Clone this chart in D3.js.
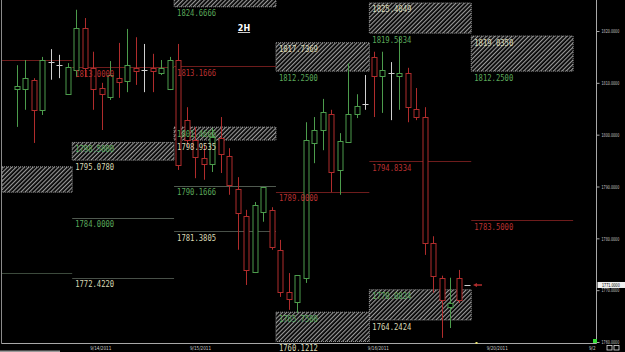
<!DOCTYPE html>
<html lang="en">
<head>
<meta charset="UTF-8">
<title>2H chart</title>
<script src="https://d3js.org/d3.v7.min.js"></script>
<style>
  body { margin: 0; background: #000; }
  svg { display: block; background: #000; }
  .lvl { font-family: "DejaVu Sans Mono", monospace; font-size: 9px; }
  .ax text { font-family: "DejaVu Sans", sans-serif; font-size: 5.5px; fill: #c8c8c8; }
</style>
</head>
<body>
<svg id="chart" width="625" height="352"></svg>
<script>
// 2H bars
const opens  = [1808.8,1808.8,1810.6,1804.8,1814.0,1813.4,1807.9,1812.5,1820.6,1812.9,1809.0,1807.3,1810.9,1810.4,1812.9,1812.5,1812.9,1811.9,1808.8,1814.4,
                1802.8,1799.0,1795.5,1794.3,1799.4,1795.9,1789.5,1784.3,1773.5,1785.1,1785.5,1777.8,1769.6,1767.7,1772.4,1798.4,1800.9,1804.0,1793.2,1798.6,
                1804.0,1805.9,1815.0,1811.3,1811.9,1811.3,1811.9,1805.0,1803.4,1779.1,1772.4,1766.8,1772.4,1771.0];
const highs  = [1813.4,1814.4,1810.9,1815.0,1816.5,1815.4,1813.8,1824.1,1822.5,1816.0,1810.0,1814.2,1817.7,1820.4,1818.8,1817.5,1815.6,1814.4,1815.0,1817.5,
                1805.3,1801.5,1798.0,1801.3,1803.4,1797.4,1791.8,1785.5,1787.0,1789.9,1786.0,1779.7,1773.3,1772.9,1802.4,1803.4,1806.9,1804.8,1800.3,1813.8,
                1807.8,1811.5,1816.0,1816.0,1814.0,1818.8,1812.9,1809.0,1805.3,1780.4,1772.8,1772.4,1773.9,1771.0];
const lows   = [1801.5,1804.8,1798.4,1803.8,1810.6,1810.9,1807.8,1811.1,1811.1,1804.8,1800.9,1806.7,1807.1,1808.2,1809.6,1808.2,1808.2,1811.5,1808.6,1793.2,
                1797.6,1791.6,1791.3,1792.8,1792.6,1788.4,1777.8,1771.0,1773.3,1783.2,1777.8,1768.7,1766.2,1765.6,1771.4,1794.5,1797.0,1788.9,1788.4,1798.4,
                1803.2,1804.8,1803.4,1804.2,1802.8,1804.8,1802.4,1802.8,1776.8,1769.5,1760.8,1762.7,1767.5,1771.0];
const closes = [1809.4,1810.9,1804.8,1814.4,1814.0,1813.4,1813.1,1820.6,1812.9,1808.8,1807.9,1811.5,1810.2,1813.4,1812.3,1812.5,1812.3,1812.9,1814.4,1794.2,
                1798.9,1795.7,1794.3,1799.6,1796.3,1790.3,1784.9,1773.9,1786.4,1789.9,1778.3,1769.6,1768.3,1772.9,1799.0,1800.9,1804.4,1792.8,1798.8,1804.0,
                1805.5,1805.9,1811.3,1812.5,1811.9,1811.9,1805.3,1803.4,1779.1,1772.7,1768.1,1767.5,1768.1,1771.0];

// session boundaries in bar units
const segBounds = [-8, 6.5, 18.5, 30.5, 41.5, 53.5, 65.5];

// hatched zones
const zoneSeg       = [0, 1, 2, 2, 3, 3, 4, 4, 5];
const zoneHigh      = [1793.8, 1798.5, 1832, 1801.4666, 1817.7369, 1765.75, 1825.4049, 1770.0834, 1819.035];
const zoneLow       = [1788.9, 1795.078, 1824.6666, 1798.9535, 1812.25, 1760.1, 1819.5834, 1764.2424, 1812.25];
const zoneHighText  = ["", "1798.5000", "", "1801.4666", "1817.7369", "1765.7500", "1825.4049", "1770.0834", "1819.0350"];
const zoneLowText   = ["", "1795.0780", "1824.6666", "1798.9535", "1812.2500", "1760.1212", "1819.5834", "1764.2424", "1812.2500"];
const zoneKind      = ["sup", "sup", "res", "sup", "res", "sup", "res", "sup", "res"];

// single levels
const levelSeg   = [0, 0, 1, 1, 1, 2, 2, 2, 3, 4, 5];
const levelPrice = [1814.4, 1773.3, 1813.0, 1784.0, 1772.422, 1813.1666, 1790.1666, 1781.3805, 1789.0, 1794.8334, 1783.5];
const levelText  = ["", "", "1813.0000", "1784.0000", "1772.4220", "1813.1666", "1790.1666", "1781.3805", "1789.0000", "1794.8334", "1783.5000"];
const levelKind  = ["red", "gray", "red", "green", "pale", "red", "green", "pale", "red", "red", "red"];

const priceTicks = [1760, 1770, 1780, 1790, 1800, 1810, 1820];
const dateAt     = [9.8, 21.55, 42.5, 56.5];
const dateLabels = ["9/14/2011", "9/15/2011", "9/16/2011", "9/20/2011"];
const lastPrice  = 1771.0;

const plotRight = 596.5, plotBottom = 343.5;
const svg = d3.select("#chart");

const x = d3.scaleLinear().domain([0, 53]).range([17, 467]);
const y = d3.scaleLinear().domain([1760, 1820]).range([342, 31]);

const col = { red: "#b02c2c", green: "#4c9c4c", white: "#d0d0d0" };
const lineCol = { red: "#6e1c1c", gray: "#3c4a3c", green: "#505a50", pale: "#485048" };
const textCol = { red: "#b83030", green: "#5aa85a", pale: "#d8d8b4" };

const defs = svg.append("defs");
const pat = defs.append("pattern").attr("id", "hatch")
    .attr("patternUnits", "userSpaceOnUse").attr("width", 3).attr("height", 3)
    .attr("patternTransform", "rotate(45)");
pat.append("rect").attr("width", 3).attr("height", 3).attr("fill", "#000");
pat.append("line").attr("x1", 0.6).attr("y1", 0).attr("x2", 0.6).attr("y2", 3)
    .attr("stroke", "#9a9a9a").attr("stroke-width", 1.2);
defs.append("clipPath").attr("id", "plot").append("rect")
    .attr("x", 2).attr("y", 0).attr("width", plotRight - 2).attr("height", plotBottom);
defs.append("clipPath").attr("id", "labs").append("rect")
    .attr("x", 2).attr("y", 0).attr("width", plotRight - 2).attr("height", 352);

const g = svg.append("g").attr("clip-path", "url(#plot)");
const segX = s => [Math.max(2, x(segBounds[s])), x(segBounds[s + 1])];

// zones
zoneSeg.forEach((s, i) => {
  const [x0, x1] = segX(s);
  const yt = y(zoneHigh[i]), yb = y(zoneLow[i]);
  g.append("rect").attr("x", x0).attr("y", yt).attr("width", x1 - x0).attr("height", yb - yt)
    .attr("fill", "url(#hatch)").attr("stroke", "#b8b8b8").attr("stroke-dasharray", "1,1").attr("stroke-width", 0.8);
});

// levels
levelSeg.forEach((s, i) => {
  const [x0, x1] = segX(s);
  const yy = Math.round(y(levelPrice[i])) + 0.5;
  g.append("line").attr("x1", x0).attr("x2", x1).attr("y1", yy).attr("y2", yy)
    .attr("stroke", lineCol[levelKind[i]]).attr("stroke-width", 1);
});

// candles
const bars = g.append("g");
opens.forEach((o, i) => {
  const c = closes[i];
  const cx = Math.round(x(i)) + 0.5;
  const color = c > o ? col.green : c < o ? col.red : col.white;
  bars.append("line").attr("x1", cx).attr("x2", cx).attr("y1", y(highs[i])).attr("y2", y(lows[i]))
    .attr("stroke", color).attr("stroke-width", 1);
  if (c === o) {
    bars.append("line").attr("x1", cx - 3).attr("x2", cx + 3).attr("y1", Math.round(y(o)) + 0.5).attr("y2", Math.round(y(o)) + 0.5)
      .attr("stroke", color).attr("stroke-width", 1);
  } else {
    const yt = Math.round(y(Math.max(o, c))) + 0.5, yb = Math.round(y(Math.min(o, c))) + 0.5;
    bars.append("rect").attr("x", cx - 2.5).attr("y", yt).attr("width", 5).attr("height", Math.max(1, yb - yt))
      .attr("fill", "#000").attr("stroke", color).attr("stroke-width", 1);
  }
});

// labels for zones and levels
const lab = svg.append("g").attr("class", "lvl").attr("clip-path", "url(#labs)");
function putLabel(s, price, text, fill) {
  if (!text) return;
  lab.append("text").attr("x", segX(s)[0] + 3).attr("y", y(price) + 9.5)
    .attr("textLength", 39).attr("lengthAdjust", "spacingAndGlyphs")
    .attr("fill", fill).text(text);
}
zoneSeg.forEach((s, i) => {
  const sup = zoneKind[i] === "sup";
  putLabel(s, zoneHigh[i], zoneHighText[i], sup ? textCol.green : textCol.pale);
  putLabel(s, zoneLow[i], zoneLowText[i], sup ? textCol.pale : textCol.green);
});
levelSeg.forEach((s, i) => putLabel(s, levelPrice[i], levelText[i], textCol[levelKind[i]]));

// last price marker
svg.append("path").attr("d", `M${x(53) + 6},${y(lastPrice)} l4,-2 v1.3 h5 v1.4 h-5 v1.3 z`).attr("fill", col.red);

// title
svg.append("text").attr("x", 244).attr("y", 31).attr("text-anchor", "middle")
  .attr("font-family", "DejaVu Sans, sans-serif").attr("font-size", 8).attr("font-weight", "bold")
  .attr("fill", "#fff").attr("text-decoration", "underline").text("2H");

// frame lines
svg.append("line").attr("x1", 1.5).attr("x2", 1.5).attr("y1", 0).attr("y2", plotBottom).attr("stroke", "#8a8a8a");
svg.append("line").attr("x1", 1.5).attr("x2", plotRight).attr("y1", plotBottom).attr("y2", plotBottom).attr("stroke", "#a8a8a8");
svg.append("line").attr("x1", plotRight).attr("x2", plotRight).attr("y1", 0).attr("y2", plotBottom).attr("stroke", "#a8a8a8");

// right price axis: tiny squeezed numbers
const squeeze = 0.6;
const yAxis = svg.append("g").attr("class", "ax").attr("transform", `translate(${plotRight},0)`)
  .call(d3.axisRight(y).tickValues(priceTicks).tickFormat(d3.format(".4f")).tickSize(3).tickPadding(2));
yAxis.select(".domain").remove();
yAxis.selectAll("line").attr("stroke", "#a8a8a8");
yAxis.selectAll("text").attr("x", 0).attr("transform", `translate(5,0) scale(${squeeze},1)`);

// current price box
const lp = svg.append("g").attr("transform", `translate(${plotRight + 1},${y(lastPrice)})`);
lp.append("rect").attr("x", 0).attr("y", -3).attr("width", 27.5).attr("height", 6).attr("fill", "#f0f0f0");
lp.append("text").attr("transform", `translate(4.5,1.9) scale(${squeeze},1)`)
  .attr("font-family", "DejaVu Sans, sans-serif").attr("font-size", 5.5)
  .attr("fill", "#000").text(d3.format(".4f")(lastPrice));

// bottom date axis
const xAxis = svg.append("g").attr("class", "ax").attr("transform", `translate(0,${plotBottom})`)
  .call(d3.axisBottom(x).tickValues(dateAt).tickFormat((d, i) => dateLabels[i]).tickSize(0).tickPadding(2));
xAxis.select(".domain").remove();
xAxis.selectAll("text").attr("y", 0).attr("dy", null)
  .attr("transform", `translate(0,6) scale(0.75,1)`);
svg.append("text").attr("transform", `translate(589,349.5) scale(0.75,1)`)
  .attr("font-family", "DejaVu Sans, sans-serif").attr("font-size", 5.5)
  .attr("fill", "#c8c8c8").text("9/2");

// small bits on the bottom strip
svg.append("rect").attr("x", 593).attr("y", 339).attr("width", 4).attr("height", 4).attr("fill", "#33dd33");
svg.append("rect").attr("x", x(53) + 8.5).attr("y", 342).attr("width", 2).attr("height", 2).attr("fill", "#e8e070");
svg.append("rect").attr("x", 0).attr("y", 350.5).attr("width", 60).attr("height", 1.5).attr("fill", "#9a9a9a");
[607, 614].forEach(bx => svg.append("rect").attr("x", bx).attr("y", 345.5).attr("width", 5).attr("height", 4.5)
  .attr("fill", "none").attr("stroke", "#e0e0e0").attr("stroke-width", 0.8));
</script>
</body>
</html>
